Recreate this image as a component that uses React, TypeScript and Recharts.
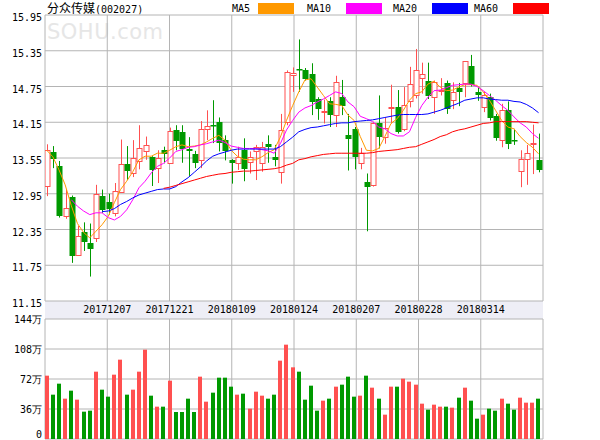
import React from 'react';
import { ComposedChart, Bar, Line, XAxis, YAxis, CartesianGrid } from 'recharts';

const stockName = '分众传媒';
const stockCode = '(002027)';
const watermark = 'SOHU.com';
const dateLabels = ['20171207', '20171221', '20180109', '20180124', '20180207', '20180228', '20180314'];
const priceTicks = [11.15, 11.75, 12.35, 12.95, 13.55, 14.15, 14.75, 15.35, 15.95];
const volumeTicks = [0, 36, 72, 108, 144];

const openP = [13.08, 13.65, 13.42, 12.57, 12.89, 11.93, 12.30, 12.12, 12.20, 12.92,
  12.81, 12.62, 12.98, 13.45, 13.30, 13.50, 13.66, 13.57, 13.38, 13.68,
  13.47, 14.02, 13.98, 13.70, 13.62, 13.52, 14.03, 14.11, 14.15, 13.86,
  13.52, 13.46, 13.69, 13.49, 13.66, 13.46, 13.79, 13.56, 13.32, 14.16,
  14.95, 15.05, 15.02, 14.96, 14.54, 14.32, 14.50, 14.27, 14.58, 13.94,
  14.03, 13.46, 13.14, 13.09, 14.14, 13.90, 14.39, 14.41, 14.04, 14.51,
  14.61, 14.89, 14.85, 14.57, 14.68, 14.81, 14.53, 14.73, 14.81, 15.10,
  14.65, 14.41, 14.58, 14.25, 13.85, 14.35, 13.85, 13.34, 13.54, 13.78,
  13.52];
const highP = [13.78, 13.75, 13.50, 13.02, 12.92, 12.41, 12.47, 12.45, 13.10, 13.02,
  12.95, 13.13, 13.86, 13.75, 13.85, 14.10, 13.91, 13.58, 13.68, 13.74,
  14.06, 14.10, 14.10, 13.90, 13.67, 14.17, 14.35, 14.52, 14.23, 13.93,
  13.53, 13.74, 13.88, 13.66, 13.77, 13.82, 13.93, 13.77, 14.29, 15.02,
  15.07, 15.54, 15.06, 15.14, 14.57, 14.53, 14.57, 14.93, 14.86, 14.29,
  14.07, 13.72, 13.29, 14.16, 14.60, 14.23, 14.78, 14.69, 14.74, 15.08,
  15.38, 15.15, 15.15, 14.85, 14.89, 14.85, 14.82, 14.81, 15.17, 15.28,
  14.74, 14.66, 14.63, 14.29, 14.46, 14.50, 14.04, 13.68, 13.77, 14.11,
  13.96];
const lowP = [12.91, 13.38, 12.55, 12.53, 11.79, 11.92, 11.99, 11.56, 12.14, 12.63,
  12.60, 12.57, 12.97, 13.18, 13.23, 13.36, 13.52, 13.08, 13.13, 13.46,
  13.47, 13.68, 13.47, 13.25, 13.38, 13.38, 13.85, 13.80, 13.66, 13.51,
  13.12, 13.35, 13.16, 13.29, 13.18, 13.32, 13.47, 13.41, 13.12, 14.10,
  14.66, 14.66, 14.85, 14.27, 14.19, 14.13, 14.07, 14.07, 14.27, 13.34,
  13.36, 13.36, 12.32, 13.07, 13.71, 13.79, 14.13, 13.96, 14.00, 14.40,
  14.55, 14.63, 14.54, 14.29, 14.60, 14.29, 14.37, 14.42, 14.57, 14.75,
  14.51, 14.32, 14.18, 13.84, 13.73, 13.70, 13.77, 13.06, 13.10, 13.28,
  13.31];
const closeP = [13.68, 13.54, 12.57, 12.71, 11.91, 12.24, 12.14, 12.02, 12.95, 12.67,
  12.70, 13.00, 13.45, 13.34, 13.55, 13.71, 13.76, 13.35, 13.55, 13.62,
  14.01, 13.84, 13.70, 13.67, 13.46, 14.03, 14.08, 14.08, 13.81, 13.67,
  13.46, 13.56, 13.36, 13.56, 13.73, 13.74, 13.73, 13.51, 14.02, 14.99,
  14.97, 15.04, 14.88, 14.49, 14.37, 14.34, 14.27, 14.83, 14.43, 13.87,
  13.57, 13.63, 13.06, 14.14, 13.91, 14.06, 14.41, 13.99, 14.44, 14.79,
  15.02, 14.96, 14.59, 14.82, 14.69, 14.37, 14.66, 14.66, 15.17, 14.78,
  14.61, 14.60, 14.22, 13.89, 14.36, 13.78, 13.84, 13.54, 13.63, 13.81,
  13.35];
const volume = [76.0, 53.2, 66.4, 48.4, 58.0, 47.2, 32.8, 34.0, 80.8, 59.2,
  50.8, 77.2, 95.2, 53.2, 59.2, 80.8, 107.2, 52.0, 38.8, 38.8,
  70.0, 32.4, 32.4, 48.4, 32.4, 74.8, 44.8, 55.6, 73.6, 73.6,
  62.8, 53.2, 54.4, 36.4, 56.8, 52.0, 48.4, 53.2, 94.0, 113.2,
  86.0, 80.8, 47.2, 64.0, 34.0, 46.0, 48.4, 62.8, 65.2, 74.8,
  50.8, 52.0, 76.0, 61.6, 48.4, 29.2, 62.8, 62.8, 72.4, 68.8,
  65.2, 42.4, 35.2, 41.2, 38.8, 38.8, 37.6, 49.6, 61.6, 46.0,
  24.4, 29.2, 36.4, 34.0, 48.4, 42.4, 35.2, 49.6, 43.6, 43.6,
  48.4];
const ma5 = [13.68, 13.57, 13.35, 13.10, 12.75, 12.45, 12.30, 12.21, 12.32, 12.43,
  12.57, 12.80, 13.02, 13.16, 13.32, 13.52, 13.58, 13.58, 13.63, 13.63,
  13.68, 13.74, 13.77, 13.74, 13.75, 13.77, 13.82, 13.88, 13.93, 13.85,
  13.68, 13.58, 13.53, 13.52, 13.52, 13.57, 13.64, 13.69, 13.90, 14.18,
  14.43, 14.66, 14.86, 14.88, 14.74, 14.60, 14.46, 14.45, 14.43, 14.27,
  14.18, 13.91, 13.68, 13.67, 13.71, 13.91, 14.13, 14.21, 14.35, 14.52,
  14.63, 14.66, 14.79, 14.84, 14.74, 14.68, 14.69, 14.74, 14.78, 14.78,
  14.77, 14.66, 14.52, 14.35, 14.18, 14.07, 14.04, 13.91, 13.81, 13.73,
  13.62];
const ma10 = [null, null, null, null, 12.85, 12.74, 12.66, 12.60, 12.63, 12.63,
  12.55, 12.51, 12.57, 12.68, 12.85, 13.05, 13.16, 13.30, 13.41, 13.46,
  13.55, 13.66, 13.69, 13.73, 13.74, 13.77, 13.79, 13.82, 13.85, 13.81,
  13.75, 13.73, 13.71, 13.71, 13.71, 13.69, 13.67, 13.63, 13.79, 14.02,
  14.18, 14.32, 14.39, 14.43, 14.49, 14.54, 14.60, 14.66, 14.63, 14.49,
  14.41, 14.25, 14.21, 14.16, 14.07, 14.04, 13.96, 13.92, 13.92, 13.99,
  14.23, 14.43, 14.57, 14.68, 14.69, 14.73, 14.77, 14.78, 14.79, 14.79,
  14.75, 14.68, 14.60, 14.52, 14.43, 14.35, 14.24, 14.14, 14.07, 13.96,
  13.88];
const ma20 = [null, null, null, null, null, null, null, null, null, 12.65,
  12.66, 12.70, 12.77, 12.82, 12.88, 12.93, 12.96, 12.99, 13.02, 13.03,
  13.03, 13.07, 13.15, 13.22, 13.31, 13.40, 13.50, 13.58, 13.62, 13.65,
  13.68, 13.70, 13.70, 13.70, 13.70, 13.70, 13.70, 13.70, 13.74, 13.82,
  13.90, 13.99, 14.03, 14.06, 14.07, 14.09, 14.11, 14.13, 14.14, 14.14,
  14.16, 14.17, 14.18, 14.19, 14.21, 14.23, 14.25, 14.27, 14.28, 14.28,
  14.28, 14.28, 14.29, 14.32, 14.35, 14.39, 14.43, 14.47, 14.52, 14.54,
  14.56, 14.56, 14.54, 14.53, 14.52, 14.52, 14.50, 14.49, 14.45, 14.39,
  14.31];
const ma60 = [null, null, null, null, null, null, null, null, null, null,
  null, null, null, null, null, null, null, null, null, 13.04,
  13.06, 13.09, 13.12, 13.15, 13.18, 13.21, 13.24, 13.26, 13.28, 13.29,
  13.31, 13.32, 13.33, 13.33, 13.34, 13.35, 13.36, 13.37, 13.39, 13.43,
  13.46, 13.52, 13.54, 13.57, 13.59, 13.61, 13.62, 13.63, 13.63, 13.63,
  13.63, 13.63, 13.63, 13.64, 13.66, 13.67, 13.68, 13.69, 13.71, 13.73,
  13.74, 13.78, 13.82, 13.86, 13.91, 13.94, 13.99, 14.02, 14.04, 14.07,
  14.10, 14.13, 14.14, 14.16, 14.16, 14.16, 14.16, 14.16, 14.16, 14.15,
  14.14];

const maSeries = [
  { key: 'ma5', name: 'MA5', color: '#ff9900' },
  { key: 'ma10', name: 'MA10', color: '#ff00ff' },
  { key: 'ma20', name: 'MA20', color: '#0000ff' },
  { key: 'ma60', name: 'MA60', color: '#ff0000' },
];

const RED = '#ff5050';
const GREEN = '#009900';
const GRID = '#b4b4b4';
const MONO = "'DejaVu Sans Mono', monospace";
const CJK = "'Noto Sans CJK SC', sans-serif";

const data = openP.map((o, i) => ({
  i,
  open: o,
  high: highP[i],
  low: lowP[i],
  close: closeP[i],
  range: [lowP[i], highP[i]],
  vol: volume[i],
  ma5: ma5[i],
  ma10: ma10[i],
  ma20: ma20[i],
  ma60: ma60[i],
}));

const X_DOMAIN: [number, number] = [-0.28, openP.length - 0.28];
const xTicks = [X_DOMAIN[0]];
dateLabels.forEach((_, k) => xTicks.push(X_DOMAIN[0] + ((k + 1) * (X_DOMAIN[1] - X_DOMAIN[0])) / 8));
xTicks.push(X_DOMAIN[1]);

const Candle = (props: any) => {
  const { x, y, width, height, payload } = props;
  if (x == null || y == null) return <g />;
  const { open, close, high, low } = payload;
  const top = Math.min(y, y + height);
  const h = Math.abs(height);
  const span = high - low;
  const py = (v: number) => (span === 0 ? top : top + ((high - v) / span) * h);
  const cx = Math.round(x + width / 2) + 0.5;
  const up = close > open;
  const color = up ? RED : GREEN;
  const bTop = Math.round(py(Math.max(open, close)));
  const bBot = Math.round(py(Math.min(open, close)));
  if (up) {
    return (
      <g>
        <line x1={cx} x2={cx} y1={top} y2={bTop} stroke={color} />
        <line x1={cx} x2={cx} y1={bBot} y2={top + h} stroke={color} />
        <rect x={cx - 2.5} y={bTop + 0.5} width={5} height={Math.max(bBot - bTop, 1)} fill="#fff" stroke={color} />
      </g>
    );
  }
  return (
    <g>
      <line x1={cx} x2={cx} y1={top} y2={top + h} stroke={color} />
      <rect x={cx - 3} y={bTop} width={6} height={Math.max(bBot - bTop, 1.5)} fill={color} />
    </g>
  );
};

const VolBar = (props: any) => {
  const { x, y, width, height, payload } = props;
  if (x == null || y == null) return <g />;
  const cx = Math.round(x + width / 2);
  return (
    <rect x={cx - 2} y={y} width={4} height={height} fill={payload.close > payload.open ? RED : GREEN} />
  );
};

const DateTick = (props: any) => {
  const { x, y, payload } = props;
  const idx = xTicks.findIndex((t) => Math.abs(t - payload.value) < 1e-6);
  const label = dateLabels[idx - 1];
  if (!label) return <g />;
  return (
    <text x={x} y={y + 12} textAnchor="middle" fontSize={10} fontFamily={MONO} fill="#000">
      {label}
    </text>
  );
};

const PriceTick = (props: any) => {
  const { x, y, payload } = props;
  return (
    <text x={x} y={y + 6} textAnchor="end" fontSize={10} fontFamily={MONO} fill="#000">
      {Number(payload.value).toFixed(2)}
    </text>
  );
};

const VolTick = (props: any) => {
  const { x, y, payload } = props;
  const v = Number(payload.value);
  return (
    <text x={x} y={v === 0 ? y - 1 : y + 4} textAnchor="end" fontSize={10} fontFamily={MONO} fill="#000">
      {v === 0 ? '0' : `${v}万`}
    </text>
  );
};

export default function App() {
  return (
    <div style={{ position: 'absolute', left: 0, top: 0, width: 600, height: 440, background: '#fff', overflow: 'hidden' }}>
      <div style={{ position: 'absolute', left: 47, top: 20, lineHeight: '24px', fontFamily: "'DejaVu Sans', sans-serif", fontSize: 21, color: '#e6e6e6', letterSpacing: 0.5, whiteSpace: 'nowrap' }}>
        {watermark}
      </div>
      <div style={{ position: 'absolute', left: 45, top: 301, width: 498, height: 18, background: '#eeeef6' }} />
      <div style={{ position: 'absolute', left: 47, top: 1, whiteSpace: 'nowrap', lineHeight: '14px', color: '#000' }}>
        <span style={{ fontFamily: CJK, fontSize: 12 }}>{stockName}</span>
        <span style={{ fontFamily: MONO, fontSize: 10 }}>{stockCode}</span>
      </div>
      {maSeries.map((s, k) => (
        <div key={s.key} style={{ position: 'absolute', left: [232, 307, 393, 474][k], top: 2, height: 12, display: 'flex', alignItems: 'center', whiteSpace: 'nowrap' }}>
          <span style={{ fontFamily: MONO, fontSize: 10, color: '#000' }}>{s.name}</span>
          <span style={{ display: 'inline-block', width: 36, height: 11, background: s.color, marginLeft: s.name.length === 3 ? 8 : 15 }} />
        </div>
      ))}
      <div style={{ position: 'absolute', left: 0, top: 0 }}>
        <ComposedChart width={600} height={319} data={data} margin={{ top: 15, right: 57, bottom: 0, left: 0 }}>
          <CartesianGrid stroke={GRID} strokeWidth={1} />
          <XAxis
            dataKey="i"
            type="number"
            domain={X_DOMAIN}
            ticks={xTicks}
            height={18}
            tickSize={0}
            tickMargin={0}
            axisLine={false}
            tick={<DateTick />}
            interval={0}
            allowDataOverflow
          />
          <YAxis
            type="number"
            domain={[priceTicks[0], priceTicks[priceTicks.length - 1]]}
            ticks={priceTicks}
            width={45}
            tickSize={0}
            tickMargin={3}
            axisLine={false}
            tick={<PriceTick />}
            interval={0}
            allowDataOverflow
          />
          <Bar dataKey="range" barSize={5} shape={<Candle />} isAnimationActive={false} />
          {maSeries.map((s) => (
            <Line
              key={s.key}
              dataKey={s.key}
              type="linear"
              stroke={s.color}
              strokeWidth={1}
              dot={false}
              activeDot={false}
              isAnimationActive={false}
            />
          ))}
        </ComposedChart>
      </div>
      <div style={{ position: 'absolute', left: 0, top: 306 }}>
        <ComposedChart width={600} height={134} data={data} margin={{ top: 13, right: 57, bottom: 1, left: 0 }}>
          <CartesianGrid stroke={GRID} strokeWidth={1} />
          <XAxis dataKey="i" type="number" domain={X_DOMAIN} ticks={xTicks} hide allowDataOverflow interval={0} />
          <YAxis
            type="number"
            domain={[0, 144]}
            ticks={volumeTicks}
            width={45}
            tickSize={0}
            tickMargin={3}
            axisLine={false}
            tick={<VolTick />}
            interval={0}
          />
          <Bar dataKey="vol" barSize={4} shape={<VolBar />} isAnimationActive={false} />
        </ComposedChart>
      </div>
    </div>
  );
}
